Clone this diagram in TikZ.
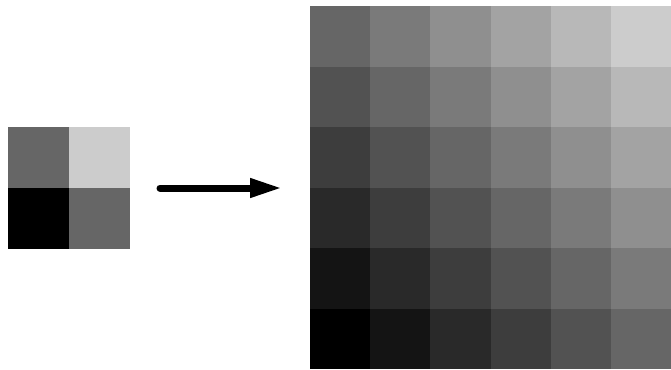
\documentclass[tikz,border=0pt]{standalone}
\usetikzlibrary{arrows.meta}
\begin{document}
\begin{tikzpicture}[x=1pt,y=-1pt,
  pointer/.style={line width=7pt, line cap=round, -{Triangle[length=32pt,width=18pt]}}]
\useasboundingbox (0,0) rectangle (671,369);
% 2x2 source image
\definecolor{gA}{gray}{0.4}
\definecolor{gB}{gray}{0.8}
\fill[gA] (8,127) rectangle (69,188);
\fill[gB] (69,127) rectangle (130,188);
\fill[black] (8,188) rectangle (69,249);
\fill[gA] (69,188) rectangle (130,249);
% 6x6 interpolated image
\foreach \c in {0,...,5}{
  \foreach \r in {0,...,5}{
    \pgfmathsetmacro{\v}{0.08*(\c+5-\r)}
    \definecolor{cellcol}{gray}{\v}
    \fill[cellcol] ({310+\c*60.17},{6+\r*60.5}) rectangle ({310+(\c+1)*60.17},{6+(\r+1)*60.5});
  }
}
% arrow
\coordinate (s) at (160,188);
\coordinate (e) at (282,188);
\draw[pointer] (s) -- (e);
\end{tikzpicture}
\end{document}
